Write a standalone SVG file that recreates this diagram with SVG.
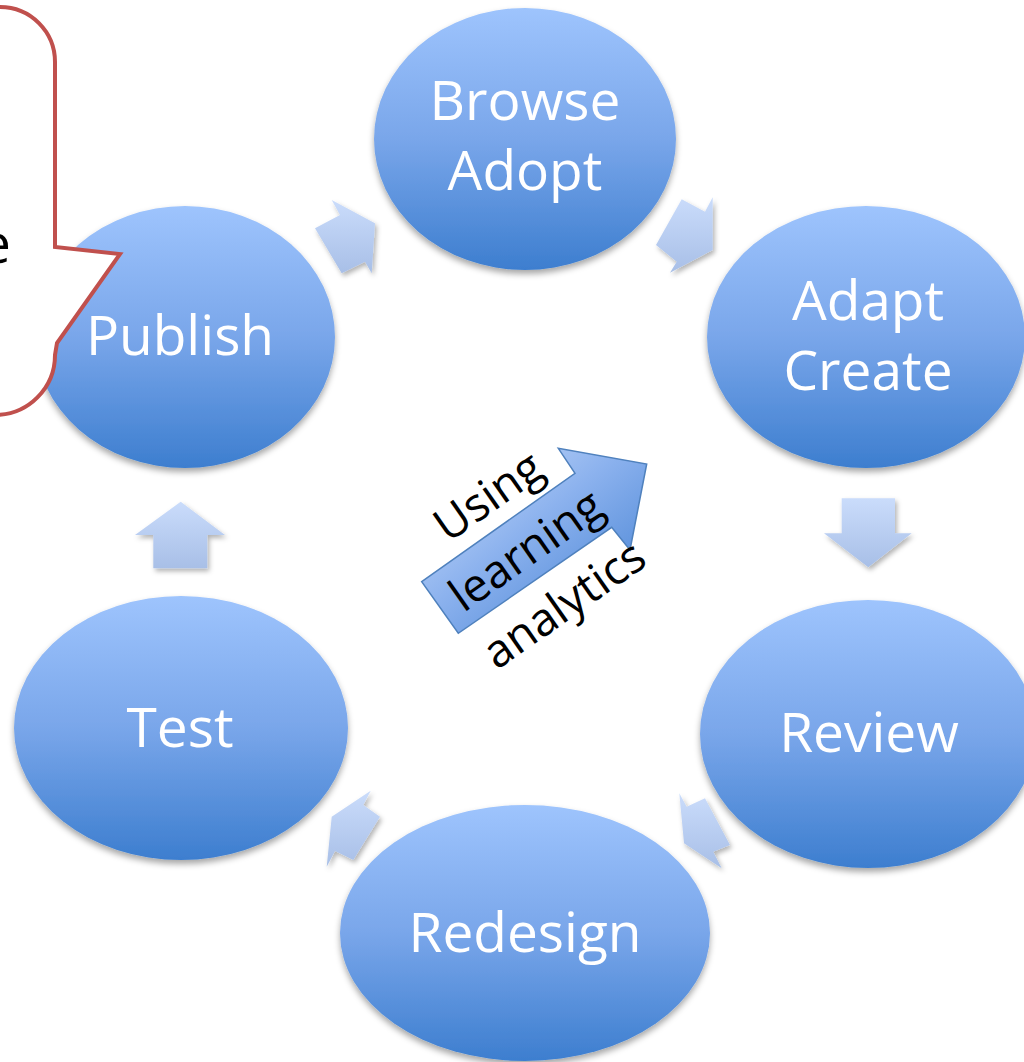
<svg xmlns="http://www.w3.org/2000/svg" width="1024" height="1062" viewBox="0 0 1024 1062">
  <defs>
    <linearGradient id="nodeFill" x1="0" y1="0" x2="0" y2="1">
      <stop offset="0" stop-color="#9ec4fd"/>
      <stop offset="0.5" stop-color="#79a6ea"/>
      <stop offset="1" stop-color="#3d7ecf"/>
    </linearGradient>
    <linearGradient id="stepFill" x1="0" y1="0" x2="0" y2="1">
      <stop offset="0" stop-color="#cadcfb"/>
      <stop offset="1" stop-color="#a8bfe7"/>
    </linearGradient>
    <linearGradient id="bigArrowFill" x1="0" y1="0" x2="1" y2="1">
      <stop offset="0" stop-color="#d2e2fb"/>
      <stop offset="0.45" stop-color="#8cb2ee"/>
      <stop offset="1" stop-color="#3c7cd0"/>
    </linearGradient>
    <filter id="nodeShadow" x="-10%" y="-10%" width="120%" height="125%">
      <feDropShadow dx="0" dy="4" stdDeviation="3" flood-color="#000" flood-opacity="0.35"/>
    </filter>
    <filter id="stepShadow" x="-20%" y="-20%" width="150%" height="150%">
      <feDropShadow dx="2" dy="3" stdDeviation="2.5" flood-color="#000" flood-opacity="0.3"/>
    </filter>
    <style>
      .node ellipse { fill: url(#nodeFill); filter: url(#nodeShadow); }
      .node text { fill: #ffffff; font-family: "Open Sans", "Noto Sans", sans-serif; font-size: 55px; text-anchor: middle; }
      .step { fill: url(#stepFill); filter: url(#stepShadow); }
      .analytics-label { fill: #000000; font-family: "Open Sans", "Noto Sans", sans-serif; font-size: 46px; text-anchor: middle; }
      .note { fill: #ffffff; stroke: #c0504d; stroke-width: 4; stroke-linejoin: miter; }
      .note-text { fill: #000000; font-family: "Open Sans", "Noto Sans", sans-serif; font-size: 55px; text-anchor: end; }
    </style>
  </defs>

  <rect width="1024" height="1062" fill="#ffffff"/>

  <!-- cycle stages -->
  <g id="node-browse" class="node">
    <ellipse cx="525" cy="139" rx="151" ry="131"/>
    <text x="525" y="120">Browse</text>
    <text x="525" y="190">Adopt</text>
  </g>
  <g id="node-adapt" class="node">
    <ellipse cx="866" cy="337" rx="159" ry="131"/>
    <text x="868" y="320">Adapt</text>
    <text x="868" y="390">Create</text>
  </g>
  <g id="node-review" class="node">
    <ellipse cx="868" cy="734" rx="168" ry="134"/>
    <text x="869" y="752">Review</text>
  </g>
  <g id="node-redesign" class="node">
    <ellipse cx="525" cy="933" rx="185" ry="128"/>
    <text x="525" y="952">Redesign</text>
  </g>
  <g id="node-test" class="node">
    <ellipse cx="181" cy="728" rx="167" ry="132"/>
    <text x="180" y="747">Test</text>
  </g>
  <g id="node-publish" class="node">
    <ellipse cx="185" cy="337" rx="150" ry="131"/>
    <text x="180" y="355">Publish</text>
  </g>

  <!-- cycle connectors -->
  <g id="connectors">
    <polygon class="step" points="331.7,200 340,215 315,228.3 341.7,273.3 365,261.7 371.7,273.3 375,223.3"/>
    <polygon class="step" points="681.7,199.3 705,211.7 712.7,197.3 712.7,250 670,272.7 676.7,261.7 656,245"/>
    <polygon class="step" points="841.7,498.3 895,498.3 895,533.3 911.7,533.3 868.3,567.3 824,533.3 841.7,533.3"/>
    <polygon class="step" points="679.3,793.3 686.7,806.7 705,798.3 730,845 713.3,851.7 721.7,868.3 684,843.3"/>
    <polygon class="step" points="370.7,790.7 363.3,805 380,816.7 353.3,860 335,851 326.7,866.7 331.7,816.7"/>
    <polygon class="step" points="180.7,501.7 225,535 207.3,535 207.3,568.3 153.3,568.3 153.3,535 135,535"/>
  </g>

  <!-- central learning analytics arrow -->
  <g id="analytics">
    <polygon points="421.7,581.7 575,473.3 558.3,448.3 646.7,464 630,550 611.7,527.3 458.3,633.3" fill="url(#bigArrowFill)" stroke="#4f81bd" stroke-width="1.5" stroke-linejoin="miter"/>
    <g transform="translate(526,550) rotate(-35)">
      <text class="analytics-label" x="0" y="-50">Using</text>
      <text class="analytics-label" x="0" y="16">learning</text>
      <text class="analytics-label" x="0" y="82">analytics</text>
    </g>
  </g>

  <!-- callout note -->
  <g id="note">
    <path class="note" d="M -100,7 H 0 A 55,55 0 0 1 55,62 V 247 L 120,254 L 57,343 L 55,355 A 60,60 0 0 1 -5,415 H -100 Z"/>
    <text class="note-text" x="11" y="263">e</text>
  </g>
</svg>
